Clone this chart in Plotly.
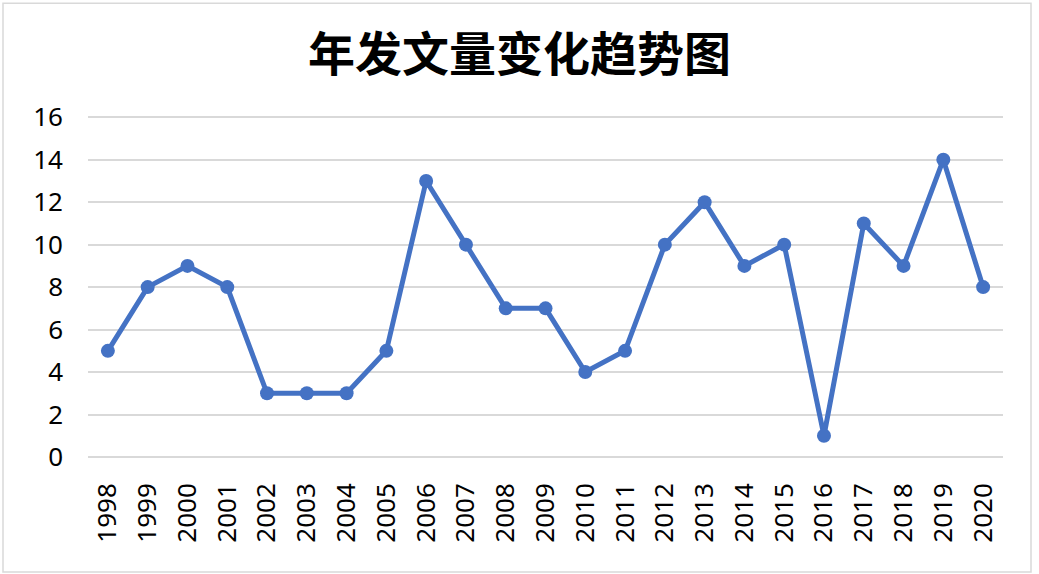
import plotly.graph_objects as go

years = [str(y) for y in range(1998, 2021)]
counts = [5, 8, 9, 8, 3, 3, 3, 5, 13, 10, 7, 7, 4, 5, 10, 12, 9, 10, 1, 11, 9, 14, 8]
title_text = "年发文量变化趋势图"
y_ticks = list(range(0, 17, 2))

W, H = 1039, 574
y_top = 16.2
L, R, B = 88, 36, 117
T = 117 - (y_top - 16) * 340 / 16
pw, ph = W - L - R, H - T - B

fig = go.Figure()
fig.add_trace(go.Scatter(
    x=years, y=counts, mode="lines+markers",
    line=dict(color="#4472C4", width=5),
    marker=dict(color="#4472C4", size=14),
    showlegend=False,
))

fig.update_layout(
    width=W, height=H,
    margin=dict(l=L, r=R, t=T, b=B, autoexpand=False),
    paper_bgcolor="white", plot_bgcolor="white",
    title=dict(text="<b>" + title_text + "</b>", x=0.5, xanchor="center",
               y=1 - 55 / H, yanchor="middle",
               font=dict(family="Noto Sans CJK SC", size=47, color="black")),
    font=dict(family="Noto Sans, Noto Sans CJK SC", size=26, color="black"),
    xaxis=dict(type="category", tickangle=-90, showgrid=False,
               showline=False, zeroline=False, ticks="",
               ticklabelstandoff=20, range=[-0.5, len(years) - 0.5],
               tickfont=dict(size=26)),
    yaxis=dict(range=[0, y_top], tickvals=y_ticks, showgrid=True,
               gridcolor="#D9D9D9", gridwidth=1.5,
               zeroline=True, zerolinecolor="#D9D9D9", zerolinewidth=1.5,
               showline=False, ticks="", ticklabelstandoff=24,
               tickfont=dict(size=26)),
    shapes=[dict(type="rect", xref="paper", yref="paper",
                 x0=(3 - L) / pw, x1=(1031 - L) / pw,
                 y0=(H - B - 572) / ph, y1=(H - B - 3) / ph,
                 line=dict(color="#D9D9D9", width=1.5), layer="below")],
)

fig.write_html("out.html", config={"displayModeBar": False},
               post_script="document.body.style.margin='0';")
